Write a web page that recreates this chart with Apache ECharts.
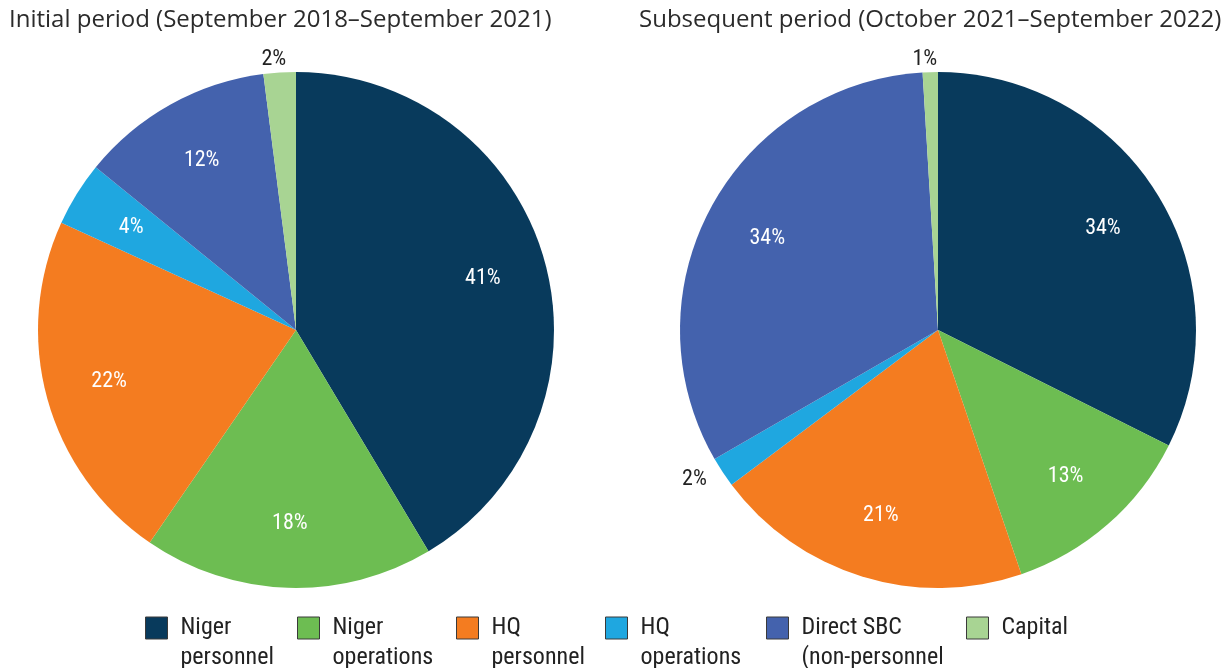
<!DOCTYPE html>
<html>
<head>
<meta charset="utf-8">
<script src="https://cdn.jsdelivr.net/npm/echarts@6/dist/echarts.min.js"></script>
<style>
html,body{margin:0;padding:0;background:#fff;}
#container1{width:1225px;height:668px;}
</style>
</head>
<body>
<div id="container1"></div>
<script>
// data
var categories = ['Niger personnel', 'Niger operations', 'HQ personnel', 'HQ operations', 'Direct SBC (non-personnel', 'Capital'];
var legendLines = [['Niger', 'personnel'], ['Niger', 'operations'], ['HQ', 'personnel'], ['HQ', 'operations'], ['Direct SBC', '(non-personnel'], ['Capital']];
var initialValues = [41, 18, 22, 4, 12, 2];
var subsequentValues = [34, 13, 21, 2, 34, 1];
var periodTitles = ['Initial period (September 2018\u2013September 2021)', 'Subsequent period (October 2021\u2013September 2022)'];

const colorList = ['#083a5c', '#6dbd52', '#f47c20', '#1fa7e0', '#4462ad', '#a8d493'];
var legendLeft = [145, 297, 456, 605, 766, 966];
var condFont = '"Roboto Condensed", "Liberation Sans Narrow", "DejaVu Sans Condensed", Roboto, sans-serif';
var R = 258;

var myChart = echarts.init(document.getElementById('container1'));
initChart();

function pieData(values){
    return values.map(function(v, i){
        var item = {name: categories[i], value: v, itemStyle: {color: colorList[i]}};
        if (v < 3) {
            item.label = {position: 'outside', color: '#222'};
            item.labelLine = {show: false, length: 13, length2: 0};
        }
        return item;
    });
}

function pieSeries(values, cx){
    return [{
        type: 'pie',
        center: [cx, 330],
        radius: [0, R],
        startAngle: 90,
        clockwise: true,
        silent: true,
        label: {show: false},
        labelLine: {show: false},
        data: pieData(values)
    }, {
        // label layer: ring so the inside labels sit at ~3/4 radius
        type: 'pie',
        center: [cx, 330],
        radius: [R * 0.48, R],
        startAngle: 90,
        clockwise: true,
        silent: true,
        avoidLabelOverlap: false,
        itemStyle: {color: 'rgba(0,0,0,0)'},
        label: {
            show: true,
            position: 'inside',
            formatter: '{c}%',
            color: '#fff',
            fontFamily: condFont,
            fontSize: 22
        },
        labelLine: {show: false},
        labelLayout: function(p){
            return categories[p.dataIndex] === 'Capital' ? {align: 'center'} : {};
        },
        data: pieData(values).map(function(d){
            var o = Object.assign({}, d);
            o.itemStyle = {color: 'rgba(0,0,0,0)'};
            return o;
        })
    }];
}

function initChart(){
    var option = {
        animation: false,
        title: [{
            text: periodTitles[0],
            left: 4,
            top: 3,
            textStyle: {fontFamily: '"Open Sans", sans-serif', fontSize: 24, fontWeight: 'normal', color: '#2b2b2b'}
        }, {
            text: periodTitles[1],
            left: 634,
            top: 3,
            textStyle: {fontFamily: '"Open Sans", sans-serif', fontSize: 24, fontWeight: 'normal', color: '#2b2b2b'}
        }],
        legend: categories.map(function(name, i){
            var lines = legendLines[i];
            return {
                data: [name],
                left: legendLeft[i],
                top: 583,
                padding: 0,
                icon: 'rect',
                itemWidth: 22,
                itemHeight: 22,
                selectedMode: false,
                itemStyle: {borderColor: '#3a3a3a', borderWidth: 1},
                // empty first line keeps the first text line level with the square
                formatter: function(){
                    var s = lines.map(function(t){ return '{p|' + t + '}'; }).join('\n');
                    return '\n' + s + (lines.length < 2 ? '\n' : '');
                },
                textStyle: {
                    fontFamily: condFont,
                    fontSize: 24,
                    lineHeight: 30,
                    color: '#222',
                    rich: {
                        p: {fontFamily: condFont, fontSize: 24, lineHeight: 30, color: '#222', padding: [0, 0, 0, 8]}
                    }
                }
            };
        }),
        series: pieSeries(initialValues, 296).concat(pieSeries(subsequentValues, 938))
    };
    myChart.setOption(option);
}
</script>
</body>
</html>
